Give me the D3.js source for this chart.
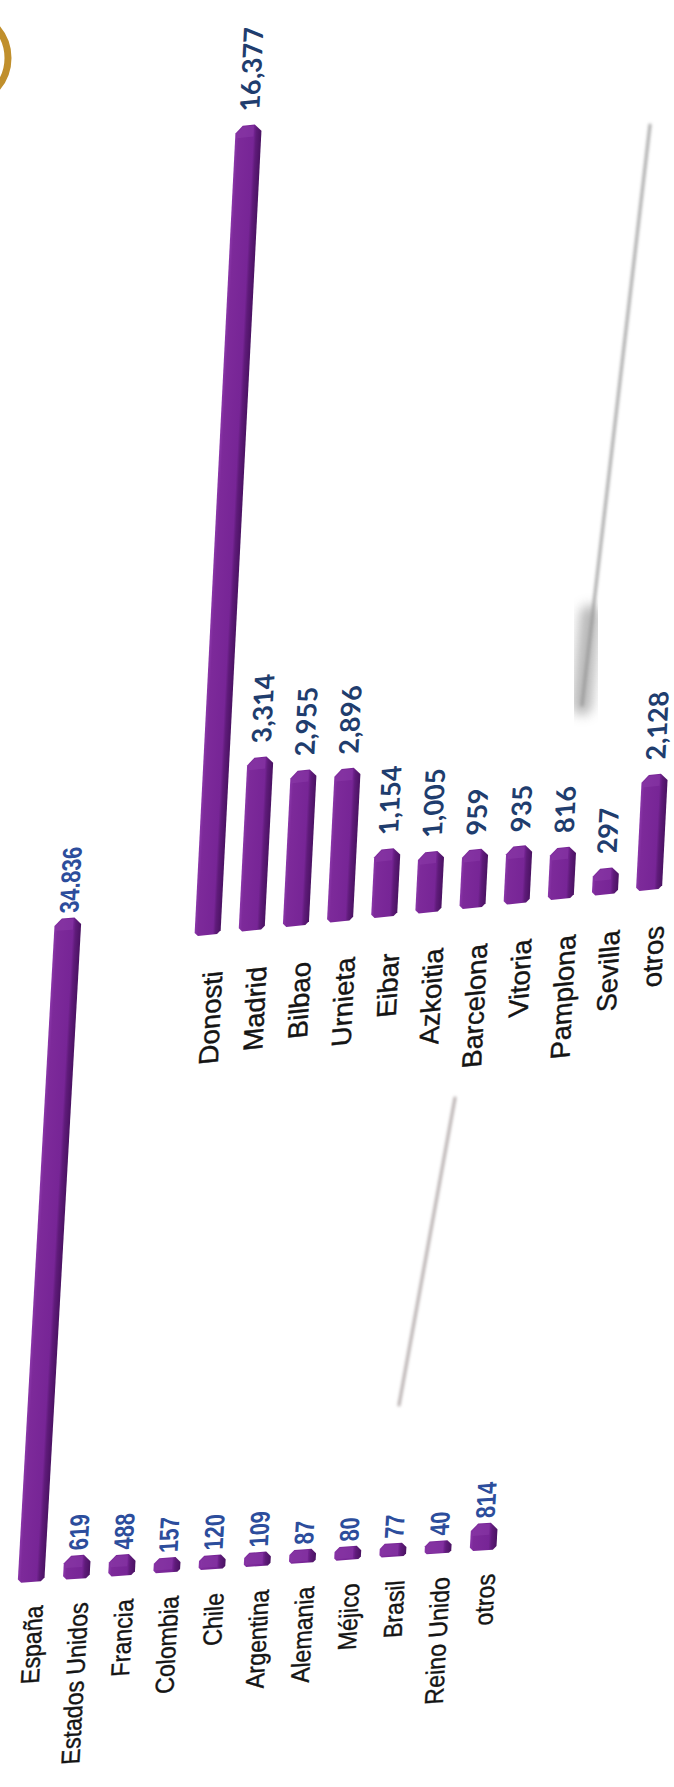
<!DOCTYPE html>
<html>
<head>
<meta charset="utf-8">
<script src="https://cdn.jsdelivr.net/npm/d3@7"></script>
<style>
  html, body { margin: 0; padding: 0; background: #fff; }
  svg { display: block; }
</style>
</head>
<body>
<svg id="chart" width="674" height="1787"></svg>
<script>
(function () {
  'use strict';

  // --- data ---
  const paises = ['España', 'Estados Unidos', 'Francia', 'Colombia', 'Chile', 'Argentina', 'Alemania', 'Méjico', 'Brasil', 'Reino Unido', 'otros'];
  const paisesValores = [34836, 619, 488, 157, 120, 109, 87, 80, 77, 40, 814];

  const ciudades = ['Donosti', 'Madrid', 'Bilbao', 'Urnieta', 'Eibar', 'Azkoitia', 'Barcelona', 'Vitoria', 'Pamplona', 'Sevilla', 'otros'];
  const ciudadesValores = [16377, 3314, 2955, 2896, 1154, 1005, 959, 935, 816, 297, 2128];

  const fmtEs = d3.formatLocale({ decimal: ',', thousands: '.', grouping: [3], currency: ['', ''] }).format(',');
  const fmtEn = d3.format(',');

  const width = 674;
  const height = 1787;
  const svg = d3.select('#chart').attr('viewBox', `0 0 ${width} ${height}`);

  svg.append('rect').attr('width', width).attr('height', height).attr('fill', '#fff');

  const defs = svg.append('defs');
  const grad = defs.append('linearGradient')
    .attr('id', 'barShade')
    .attr('x1', 0).attr('y1', 0).attr('x2', 0).attr('y2', 1);
  [[0, '#8b37aa'], [0.12, '#7d2a9a'], [0.7, '#772596'], [0.8, '#5f1b7a'], [1, '#4a1262']]
    .forEach(([o, c]) => grad.append('stop').attr('offset', o).attr('stop-color', c));
  defs.append('filter').attr('id', 'soft').attr('x', '-50%').attr('y', '-10%').attr('width', '200%').attr('height', '120%')
    .append('feGaussianBlur').attr('stdDeviation', 1.6);
  defs.append('filter').attr('id', 'softer').attr('x', '-100%').attr('y', '-30%').attr('width', '300%').attr('height', '160%')
    .append('feGaussianBlur').attr('stdDeviation', 6);

  // photo artefacts of the scanned page: gold ring and two shadow streaks
  svg.append('circle').attr('cx', -38).attr('cy', 58).attr('r', 46)
    .attr('fill', 'none').attr('stroke', '#c08f2c').attr('stroke-width', 7);
  const decor = svg.append('g').attr('fill', 'none').attr('stroke-linecap', 'round');
  decor.append('path').attr('d', 'M650,125 L582,705').attr('stroke', '#a9a9a9').attr('stroke-width', 3).attr('filter', 'url(#soft)');
  decor.append('path').attr('d', 'M590,615 L582,705').attr('stroke', '#9a9a9a').attr('stroke-width', 20).attr('opacity', 0.7).attr('filter', 'url(#softer)');
  decor.append('path').attr('d', 'M455,1098 L399,1405').attr('stroke', '#b5adad').attr('stroke-width', 3).attr('filter', 'url(#soft)');

  // bar outline in local coords: x along value, y across the band
  function barPath(t, y0, w) {
    const k = Math.min(7, w * 0.28, t * 0.35);
    const y1 = y0 + w;
    return [
      [0, y0 + k * 0.5], [k * 0.5, y0], [t - k, y0], [t, y0 + k],
      [t, y1 - k], [t - k, y1], [k * 0.5, y1], [0, y1 - k * 0.5],
    ].map((p, i) => (i ? 'L' : 'M') + p[0].toFixed(2) + ',' + p[1].toFixed(2)).join('') + 'Z';
  }

  function drawPanel(cfg, cats, vals, fmt) {
    const n = cats.length;
    const y = d3.scaleBand()
      .domain(cats)
      .range([0, n * cfg.step])
      .paddingInner(cfg.pad)
      .paddingOuter(cfg.pad / 2);
    const x = d3.scaleLinear().domain([0, d3.max(vals)]).range([0, cfg.len]);
    const rows = cats.map((c, i) => ({ cat: c, value: vals[i] }));

    // rotated page seen in slight perspective: value axis points up, categories run right
    const g = svg.append('g')
      .attr('transform', `matrix(${cfg.vdir[0]},${cfg.vdir[1]},${cfg.cdir[0]},${cfg.cdir[1]},${cfg.origin[0]},${cfg.origin[1]})`);

    g.append('g')
      .selectAll('path')
      .data(rows)
      .join('path')
      .attr('d', (d) => barPath(x(d.value) + cfg.cap, y(d.cat), y.bandwidth()))
      .attr('fill', 'url(#barShade)');

    // lighter top face of each 3d bar
    g.append('g')
      .selectAll('path')
      .data(rows)
      .join('path')
      .attr('d', (d) => {
        const t = x(d.value) + cfg.cap;
        const w = y.bandwidth();
        const y0 = y(d.cat);
        const k = Math.min(7, w * 0.28, t * 0.35);
        return `M${t - cfg.cap},${y0 + 2}L${t - k},${y0 + 2}L${t - 1},${y0 + k}L${t - 1},${y0 + w * 0.7}L${t - cfg.cap},${y0 + w * 0.7}Z`;
      })
      .attr('fill', '#9444b2')
      .attr('opacity', 0.35);

    g.append('g')
      .selectAll('g')
      .data(rows)
      .join('g')
      .attr('transform', (d) => `translate(${-cfg.labelGap},${y(d.cat) + y.bandwidth() / 2 + cfg.labelShift}) scale(${cfg.catScale},1)`)
      .append('text')
      .attr('text-anchor', 'end')
      .attr('dy', '0.36em')
      .attr('font-family', '"Liberation Sans", Arial, sans-serif')
      .attr('font-size', cfg.catSize)
      .attr('fill', '#141414')
      .attr('stroke', '#141414')
      .attr('stroke-width', 0.4)
      .text((d) => d.cat);

    g.append('g')
      .selectAll('g')
      .data(rows)
      .join('g')
      .attr('transform', (d) => `translate(${x(d.value) + cfg.cap + cfg.valueGap},${y(d.cat) + y.bandwidth() / 2}) scale(${cfg.valScale},1)`)
      .append('text')
      .attr('text-anchor', 'start')
      .attr('dy', '0.36em')
      .attr('font-family', cfg.valFont)
      .attr('font-weight', 'bold')
      .attr('font-size', cfg.valSize)
      .attr('fill', cfg.valColor)
      .text((d) => fmt(d.value));
  }

  drawPanel({
    origin: [8.4, 1583.6],
    vdir: [0.056, -1],
    cdir: [1, -0.07],
    step: 45.2,
    pad: 0.41,
    len: 652,
    cap: 12,
    labelGap: 24,
    labelShift: 4,
    catSize: 26,
    catScale: 0.89,
    valueGap: 5,
    valFont: '"Liberation Sans", Arial, sans-serif',
    valSize: 27,
    valScale: 0.8,
    valColor: '#2c4d9c',
  }, paises, paisesValores, fmtEs);

  drawPanel({
    origin: [185.4, 937.3],
    vdir: [0.051, -1],
    cdir: [1, -0.102],
    step: 44.15,
    pad: 0.41,
    len: 798,
    cap: 12,
    labelGap: 37,
    labelShift: 7,
    catSize: 27.5,
    catScale: 1,
    valueGap: 14,
    valFont: 'Lato, "Open Sans", sans-serif',
    valSize: 27,
    valScale: 1,
    valColor: '#1f3d6e',
  }, ciudades, ciudadesValores, fmtEn);
})();
</script>
</body>
</html>
